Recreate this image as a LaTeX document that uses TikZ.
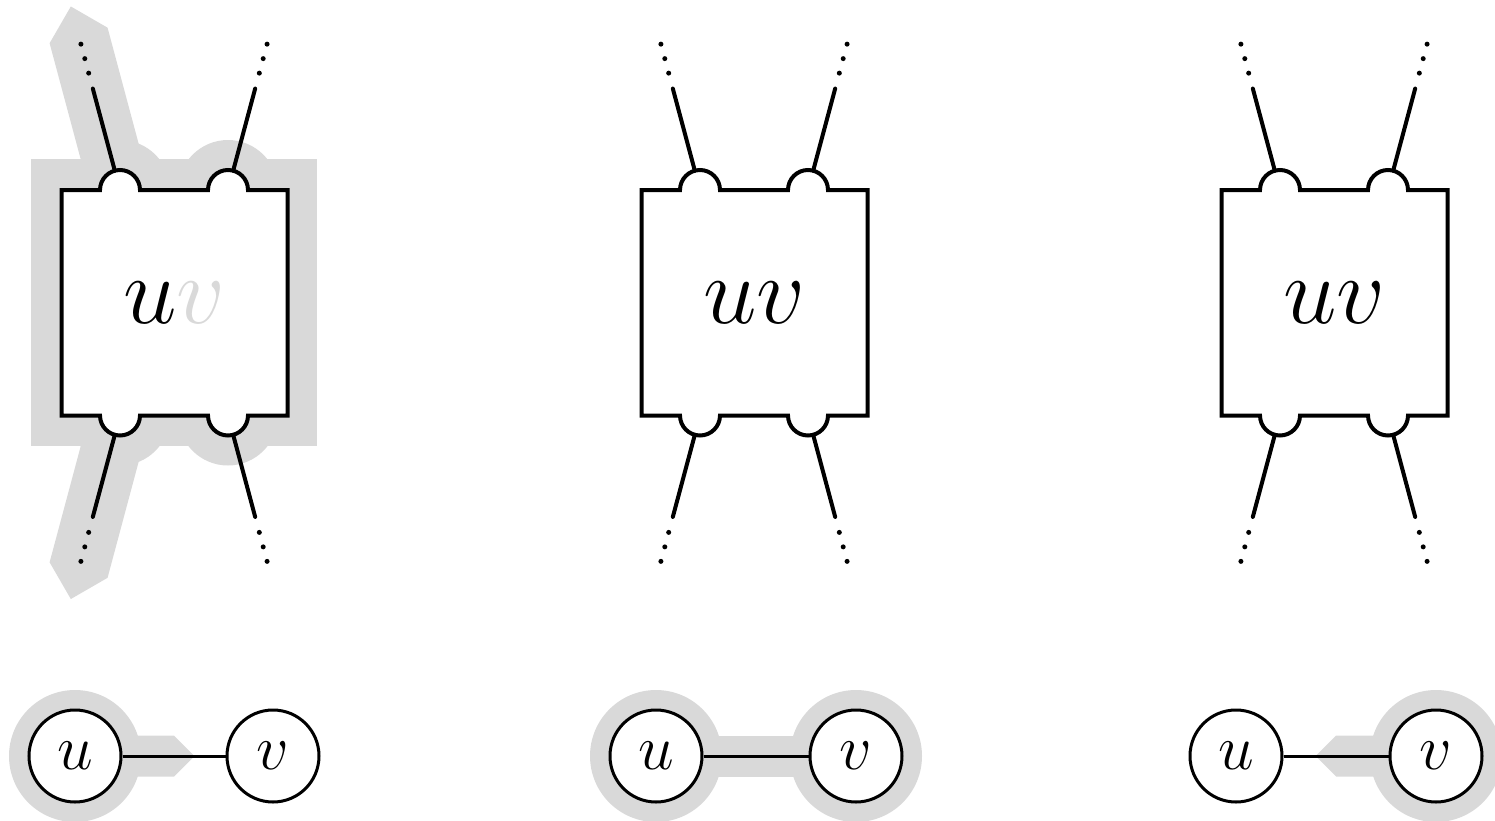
\documentclass[tikz,border=0pt]{standalone}
\usepackage{fix-cm}
\usetikzlibrary{calc}
\definecolor{hl}{RGB}{217,217,217}
\pgfdeclarelayer{bg}
\pgfsetlayers{bg,main}
\tikzset{
  outline/.style={line width=2pt, fill=white, line join=miter},
  leg/.style={line width=2pt, line cap=round},
  bigtext/.style={inner sep=0pt, font=\fontsize{48}{56}\selectfont},
  vert/.style={circle, draw, line width=1.5pt, fill=white, minimum size=46pt, inner sep=0pt, font=\fontsize{32}{38}\selectfont},
  edge/.style={line width=1.5pt},
  shade/.style={fill=hl}
}
\begin{document}
\begin{tikzpicture}[x=0.5pt,y=0.5pt]
\useasboundingbox (0,0) rectangle (1495,-820);
\foreach \o/\n/\vc in {0/a/hl,580/b/black,1160/c/black}{
  \coordinate (\n-tl) at (\o+120,-190);
  \coordinate (\n-tr) at (\o+228,-190);
  \coordinate (\n-bl) at (\o+120,-415.5);
  \coordinate (\n-br) at (\o+228,-415.5);
  \draw[outline] (\o+61.5,-190) -- ($(\n-tl)+(-20,0)$) arc[start angle=180,end angle=0,radius=20]
     -- ($(\n-tr)+(-20,0)$) arc[start angle=180,end angle=0,radius=20]
     -- (\o+287.5,-190) -- (\o+287.5,-415.5)
     -- ($(\n-br)+(20,0)$) arc[start angle=0,end angle=-180,radius=20]
     -- ($(\n-bl)+(20,0)$) arc[start angle=0,end angle=-180,radius=20]
     -- (\o+61.5,-415.5) -- cycle;
  \node[bigtext] (\n-box) at (\o+174.5,-302.75) {$u\textcolor{\vc}{v}$};
  \foreach \c/\ang in {tl/105,tr/75,bl/255,br/285}{
    \coordinate (\n-\c-s) at ($(\n-\c)+(\ang:20)$);
    \coordinate (\n-\c-e) at ($(\n-\c)+(\ang:105)$);
    \draw[leg] (\n-\c-s) -- (\n-\c-e);
    \foreach \r in {121,136,151}
      \fill ($(\n-\c)+(\ang:\r)$) circle[radius=2.5];
  }
}
% graphs
\node[vert] (a-u) at (75,-756) {$u$};
\node[vert] (a-v) at (273,-756) {$v$};
\draw[edge] (a-u) -- (a-v);
\node[vert] (b-u) at (656,-756) {$u$};
\node[vert] (b-v) at (856,-756) {$v$};
\draw[edge] (b-u) -- (b-v);
\node[vert] (c-u) at (1236,-756) {$u$};
\node[vert] (c-v) at (1436,-756) {$v$};
\draw[edge] (c-u) -- (c-v);
% highlights
\begin{pgfonlayer}{bg}
  \fill[shade] (31,-159) rectangle (317,-446);
  \foreach \c in {tl,tr,bl,br} \fill[shade] (a-\c) circle[radius=50];
  \fill[shade] ($(a-tl)+(195:30)$) -- ($(a-tl)+(105:160)+(195:30)$) -- ($(a-tl)+(105:190)$)
     -- ($(a-tl)+(105:160)+(15:30)$) -- ($(a-tl)+(15:30)$) -- cycle;
  \fill[shade] ($(a-bl)+(165:30)$) -- ($(a-bl)+(255:160)+(165:30)$) -- ($(a-bl)+(255:190)$)
     -- ($(a-bl)+(255:160)+(345:30)$) -- ($(a-bl)+(345:30)$) -- cycle;
  \fill[shade] (a-u) circle[radius=66];
  \fill[shade] (75,-735.5) -- (174,-735.5) -- (194.5,-756) -- (174,-776.5) -- (75,-776.5) -- cycle;
  \fill[shade] (b-u) circle[radius=66];
  \fill[shade] (b-v) circle[radius=66];
  \fill[shade] (656,-735.5) rectangle (856,-776.5);
  \fill[shade] (c-v) circle[radius=66];
  \fill[shade] (1436,-735.5) -- (1336,-735.5) -- (1315.5,-756) -- (1336,-776.5) -- (1436,-776.5) -- cycle;
\end{pgfonlayer}
\end{tikzpicture}
\end{document}
